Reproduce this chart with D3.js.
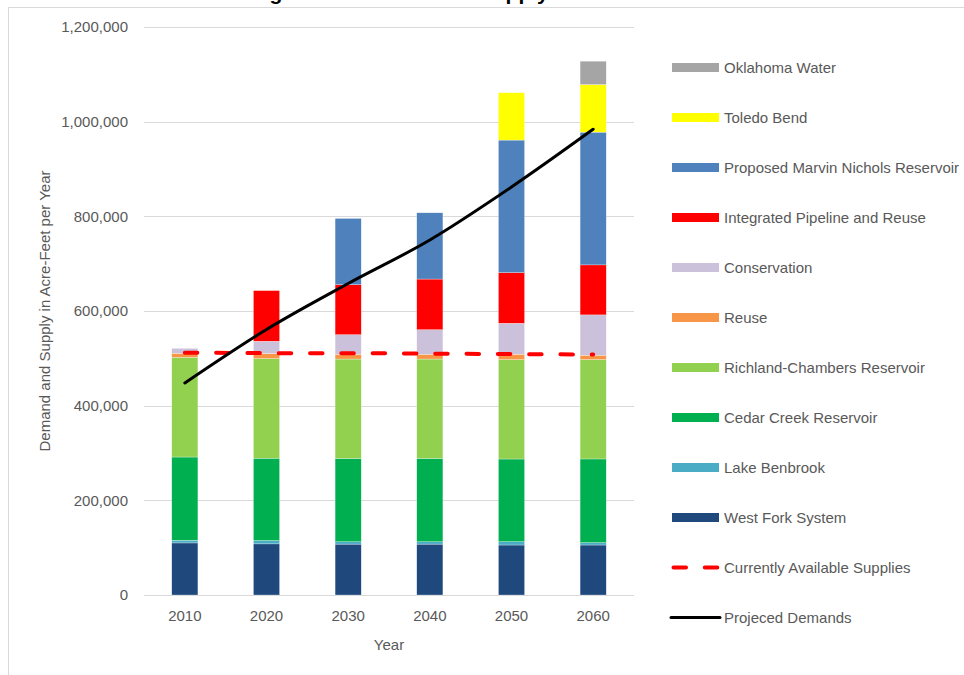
<!DOCTYPE html>
<html>
<head>
<meta charset="utf-8">
<script src="https://cdn.jsdelivr.net/npm/d3@7"></script>
<style>
  html, body { margin: 0; padding: 0; background: #fff; }
  svg { display: block; }
  text { font-family: "Liberation Sans", Arial, sans-serif; }
</style>
</head>
<body>
<svg id="chart" width="964" height="675"></svg>
<script>
// ---------- DATA ----------
const years = ["2010", "2020", "2030", "2040", "2050", "2060"];

const westFork        = [110000, 108000, 107500, 107500, 105600, 105600];
const lakeBenbrook    = [5500, 7000, 5000, 5000, 7000, 5000];
const cedarCreek      = [176000, 174000, 176000, 176000, 174700, 176800];
const richlandChambers= [210600, 210500, 210000, 210000, 210000, 210000];
const reuse           = [8500, 10600, 10000, 10000, 11300, 9200];
const conservation    = [10500, 26000, 41500, 52000, 65500, 85200];
const integratedPipeline = [0, 107000, 105600, 107000, 107000, 105600];
const marvinNichols   = [0, 0, 140000, 140000, 280000, 280400];
const toledoBend      = [0, 0, 0, 0, 100000, 100600];
const oklahomaWater   = [0, 0, 0, 0, 0, 49400];

const currentSupplies = [512000, 511000, 511000, 510000, 509000, 508000];
const projectedDemands = [448000, 561000, 658000, 750000, 862000, 984000];

const yTicks = [0, 200000, 400000, 600000, 800000, 1000000, 1200000];

const seriesNames = [
  "West Fork System", "Lake Benbrook", "Cedar Creek Reservoir",
  "Richland-Chambers Reservoir", "Reuse", "Conservation",
  "Integrated Pipeline and Reuse", "Proposed Marvin Nichols Reservoir",
  "Toledo Bend", "Oklahoma Water"
];
const seriesValues = [westFork, lakeBenbrook, cedarCreek, richlandChambers, reuse,
  conservation, integratedPipeline, marvinNichols, toledoBend, oklahomaWater];
const seriesColors = ["#1f497d", "#4bacc6", "#00b050", "#92d050", "#f79646",
  "#ccc1da", "#ff0000", "#4f81bd", "#ffff00", "#a5a5a5"];

const titleText = "Tarrant Regional Water District Supply and Demand";
const yTitle = "Demand and Supply in Acre-Feet per Year";
const xTitle = "Year";
const supplyName = "Currently Available Supplies";
const demandName = "Projeced Demands";

// ---------- LAYOUT ----------
const svg = d3.select("#chart");
const plot = { left: 144, right: 634, top: 27, bottom: 595 };
const textColor = "#595959";
const gridColor = "#d9d9d9";

// chart border
svg.append("rect")
  .attr("x", 8.5).attr("y", 7.5).attr("width", 964).attr("height", 700)
  .attr("fill", "none").attr("stroke", gridColor).attr("stroke-width", 1);

// title (mostly cropped in the reference)
svg.append("text")
  .attr("x", 166).attr("y", -0.5)
  .attr("font-size", 21).attr("font-weight", "bold").attr("fill", "#000")
  .text(titleText);

const x = d3.scaleBand().domain(years).range([plot.left, plot.right])
  .paddingInner(0.68).paddingOuter(0.34);
const y = d3.scaleLinear().domain([0, 1200000]).range([plot.bottom, plot.top]);

// gridlines
svg.append("g").selectAll("line").data(yTicks).join("line")
  .attr("x1", plot.left).attr("x2", plot.right)
  .attr("y1", d => Math.round(y(d)) + 0.5).attr("y2", d => Math.round(y(d)) + 0.5)
  .attr("stroke", gridColor).attr("stroke-width", 1);

// y axis
const yAxis = svg.append("g")
  .attr("transform", `translate(${plot.left - 16},0)`)
  .call(d3.axisLeft(y).tickValues(yTicks).tickSize(0).tickPadding(0)
    .tickFormat(d3.format(",")));
yAxis.select(".domain").remove();
yAxis.selectAll("text").attr("font-size", 15).attr("fill", textColor)
  .attr("font-family", "Liberation Sans, Arial, sans-serif");

// x axis
const xAxis = svg.append("g")
  .attr("transform", `translate(0,${plot.bottom})`)
  .call(d3.axisBottom(x).tickSize(0).tickPadding(15));
xAxis.select(".domain").remove();
xAxis.selectAll("text").attr("font-size", 15).attr("fill", textColor)
  .attr("font-family", "Liberation Sans, Arial, sans-serif");

// axis titles
svg.append("text")
  .attr("transform", `translate(50,${(plot.top + plot.bottom) / 2}) rotate(-90)`)
  .attr("text-anchor", "middle").attr("font-size", 15).attr("fill", textColor)
  .text(yTitle);
svg.append("text")
  .attr("x", (plot.left + plot.right) / 2).attr("y", 650)
  .attr("text-anchor", "middle").attr("font-size", 15).attr("fill", textColor)
  .text(xTitle);

// stacked bars
const table = years.map((yr, i) => {
  const row = { year: yr };
  seriesNames.forEach((n, k) => row[n] = seriesValues[k][i]);
  return row;
});
const stacked = d3.stack().keys(seriesNames)(table);
svg.append("g").selectAll("g").data(stacked).join("g")
  .attr("fill", (d, i) => seriesColors[i])
  .selectAll("rect").data(d => d.filter(s => s[1] - s[0] > 0)).join("rect")
  .attr("x", d => x(d.data.year))
  .attr("width", x.bandwidth())
  .attr("y", d => y(d[1]))
  .attr("height", d => y(d[0]) - y(d[1]))
  .attr("stroke", "#ffffff").attr("stroke-width", 0.4).attr("stroke-opacity", 0.7);

const cx = d => x(d) + x.bandwidth() / 2;

// current supplies dashed line
svg.append("path")
  .datum(years.map((yr, i) => [cx(yr), y(currentSupplies[i])]))
  .attr("d", d3.line())
  .attr("fill", "none").attr("stroke", "#ff0000").attr("stroke-width", 4)
  .attr("stroke-linecap", "round").attr("stroke-dasharray", "12.5,18.8");

// projected demands
svg.append("path")
  .datum(years.map((yr, i) => [cx(yr), y(projectedDemands[i])]))
  .attr("d", d3.line().curve(d3.curveMonotoneX))
  .attr("fill", "none").attr("stroke", "#000").attr("stroke-width", 3)
  .attr("stroke-linecap", "round");

// legend
const legendItems = [];
for (let k = seriesNames.length - 1; k >= 0; k--) {
  legendItems.push({ name: seriesNames[k], type: "bar", color: seriesColors[k] });
}
legendItems.push({ name: supplyName, type: "dash", color: "#ff0000" });
legendItems.push({ name: demandName, type: "line", color: "#000" });

const lg = svg.append("g");
legendItems.forEach((it, i) => {
  const cy = 67.5 + i * 50;
  if (it.type === "bar") {
    lg.append("rect").attr("x", 672).attr("y", cy - 4.5).attr("width", 47).attr("height", 9)
      .attr("fill", it.color);
  } else if (it.type === "dash") {
    lg.append("line").attr("x1", 673.5).attr("x2", 717.5).attr("y1", cy).attr("y2", cy)
      .attr("stroke", it.color).attr("stroke-width", 4).attr("stroke-linecap", "round")
      .attr("stroke-dasharray", "12.5,18.8");
  } else {
    lg.append("line").attr("x1", 671).attr("x2", 720).attr("y1", cy).attr("y2", cy)
      .attr("stroke", it.color).attr("stroke-width", 3).attr("stroke-linecap", "round");
  }
  lg.append("text").attr("x", 724).attr("y", cy).attr("dy", "0.35em")
    .attr("font-size", 15).attr("fill", textColor).text(it.name);
});
</script>
</body>
</html>
